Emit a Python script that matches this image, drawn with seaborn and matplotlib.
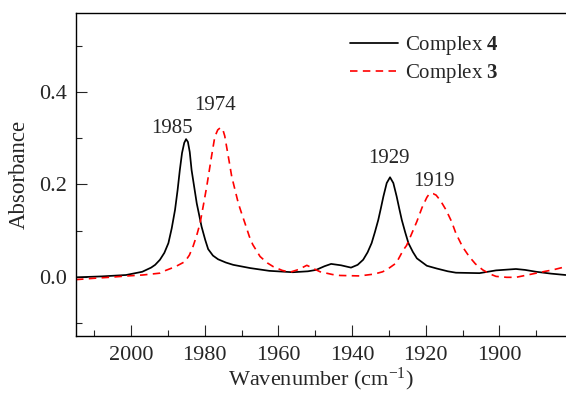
import matplotlib
matplotlib.use("Agg")
import matplotlib.pyplot as plt
import seaborn as sns
import pandas as pd

# ---- data ----
wn_c4 = [2015.0, 2008.0, 2001.4, 1997.0, 1994.6, 1993.5, 1992.2, 1991.0, 1989.9, 1989.0,
         1988.1, 1987.4, 1986.8, 1986.2, 1985.6, 1985.1, 1984.6, 1984.1, 1983.6, 1982.9,
         1982.2, 1980.9, 1979.9, 1979.1, 1977.8, 1976.4, 1974.3, 1972.3, 1967.7, 1962.5,
         1956.1, 1952.0,
         1949.8, 1947.5, 1945.7, 1943.0, 1940.3, 1938.5, 1937.0, 1935.8, 1934.7, 1933.8,
         1932.9, 1932.2, 1931.5, 1930.6, 1929.7, 1928.8, 1927.9, 1927.2, 1926.5, 1925.6,
         1924.7, 1923.5, 1922.4, 1919.7, 1917.0, 1914.0, 1911.8, 1905.4, 1900.9, 1895.5,
         1893.0, 1890.0, 1886.0, 1882.0]
abs_c4 = [-0.001, 0.001, 0.004, 0.011, 0.020, 0.026, 0.037, 0.052, 0.073, 0.105,
          0.145, 0.188, 0.231, 0.268, 0.290, 0.298, 0.292, 0.270, 0.231, 0.195,
          0.159, 0.109, 0.080, 0.060, 0.046, 0.038, 0.031, 0.026, 0.019, 0.013,
          0.010, 0.012,
          0.015, 0.023, 0.028, 0.025, 0.020, 0.026, 0.037, 0.053, 0.073, 0.097,
          0.123, 0.148, 0.174, 0.203, 0.2155, 0.203, 0.174, 0.148, 0.123, 0.097,
          0.073, 0.054, 0.040, 0.024, 0.018, 0.012, 0.009, 0.008, 0.014, 0.017,
          0.015, 0.011, 0.007, 0.004]

wn_c3 = [2015.0, 2010.0, 2006.0, 2001.0, 1996.9, 1992.2, 1990.6, 1988.0, 1985.4, 1984.2,
         1983.2, 1982.2, 1981.3, 1980.4, 1979.5, 1978.8, 1978.2, 1977.3, 1976.5, 1975.9,
         1975.2, 1974.6, 1974.1, 1973.4, 1972.7, 1971.8, 1970.9, 1970.0, 1969.1, 1967.9,
         1967.0, 1965.0, 1963.0, 1961.4, 1959.0, 1956.9, 1954.5,
         1952.3, 1950.5, 1948.7, 1945.3, 1943.3, 1938.0, 1934.0, 1931.7, 1930.3, 1928.0,
         1926.1, 1925.2, 1924.0, 1922.4, 1921.0, 1919.7, 1919.0, 1918.0, 1917.2, 1916.0,
         1914.5, 1913.0, 1911.8, 1910.0, 1908.2, 1906.5, 1904.5, 1902.5, 1900.9, 1898.0,
         1895.5, 1893.0, 1890.0, 1887.5, 1885.5, 1882.0]
abs_c3 = [-0.006, -0.003, -0.001, 0.002, 0.004, 0.008, 0.014, 0.022, 0.033, 0.047,
          0.066, 0.090, 0.116, 0.155, 0.195, 0.230, 0.260, 0.303, 0.318, 0.322,
          0.321, 0.305, 0.282, 0.250, 0.217, 0.188, 0.159, 0.137, 0.116, 0.087,
          0.070, 0.044, 0.030, 0.022, 0.014, 0.010, 0.016,
          0.025, 0.018, 0.011, 0.005, 0.003, 0.002, 0.006, 0.011, 0.017, 0.030,
          0.058, 0.068, 0.090, 0.120, 0.150, 0.172, 0.180, 0.180, 0.177, 0.165,
          0.145, 0.120, 0.094, 0.065, 0.044, 0.028, 0.015, 0.006, 0.001, -0.001,
          -0.001, 0.003, 0.008, 0.012, 0.015, 0.022]

peak_labels = ["1985", "1974", "1929", "1919"]
peak_label_x = [1989.0, 1977.1, 1930.0, 1917.9]
peak_label_y = [0.321, 0.370, 0.257, 0.206]

xticks = [2000, 1980, 1960, 1940, 1920, 1900]
yticks = [0.0, 0.2, 0.4]

sns.set_style("ticks")
plt.rcParams["font.family"] = ["Liberation Serif", "DejaVu Serif"]
plt.rcParams["mathtext.fontset"] = "custom"
plt.rcParams["mathtext.rm"] = "Liberation Serif"
plt.rcParams["mathtext.bf"] = "Liberation Serif:bold"
plt.rcParams["mathtext.default"] = "regular"

fig = plt.figure(figsize=(5.66, 3.95), dpi=100)
ax = fig.add_axes([76/566, 1-336/395, 1-76/566, (336-13)/395])

df4 = pd.DataFrame({"wn": wn_c4, "a": abs_c4})
df3 = pd.DataFrame({"wn": wn_c3, "a": abs_c3})
sns.lineplot(data=df4, x="wn", y="a", ax=ax, color="black", lw=1.25,
             label="Complex $\\mathbf{4}$", sort=False, estimator=None)
sns.lineplot(data=df3, x="wn", y="a", ax=ax, color="#ff0000", lw=1.2,
             label="Complex $\\mathbf{3}$", sort=False, estimator=None)
ax.lines[1].set_linestyle((0, (4.5, 3.2)))

for t, x, y in zip(peak_labels, peak_label_x, peak_label_y):
    ax.text(x, y, t, ha="center", va="center", fontsize=15)

ax.set_xlim(2015.0, 1881.9)
ax.set_ylim(-0.128, 0.571)
ax.set_xticks(xticks)
ax.set_xticks([x + 10 for x in xticks] + [1890], minor=True)
ax.set_yticks(yticks)
ax.set_yticks([-0.1, 0.1, 0.3, 0.5], minor=True)
ax.set_yticklabels([f"{v:.1f}" for v in yticks])
ax.tick_params(which="major", direction="in", length=8, width=0.8, labelsize=16,
               top=False, right=False)
ax.tick_params(which="minor", direction="in", length=4.5, width=0.8,
               top=False, right=False)
ax.tick_params(axis="x", which="major", pad=7.5)
ax.tick_params(axis="y", which="major", pad=6.5)
ax.spines["right"].set_visible(False)
for s in ["left", "bottom", "top"]:
    ax.spines[s].set_linewidth(1.0)
    ax.spines[s].set_color("black")

ax.set_xlabel("Wavenumber (cm$^{-1}$)", fontsize=16, labelpad=0.5)
ax.set_ylabel("Absorbance", fontsize=16.5, labelpad=7)

leg = ax.legend(loc="upper left", bbox_to_anchor=(350/566, 1-34/395),
                bbox_transform=fig.transFigure, frameon=False, fontsize=15,
                handlelength=2.3, handletextpad=0.35, labelspacing=0.25,
                borderpad=0, borderaxespad=0)

fig.savefig("out.png", dpi=100)
